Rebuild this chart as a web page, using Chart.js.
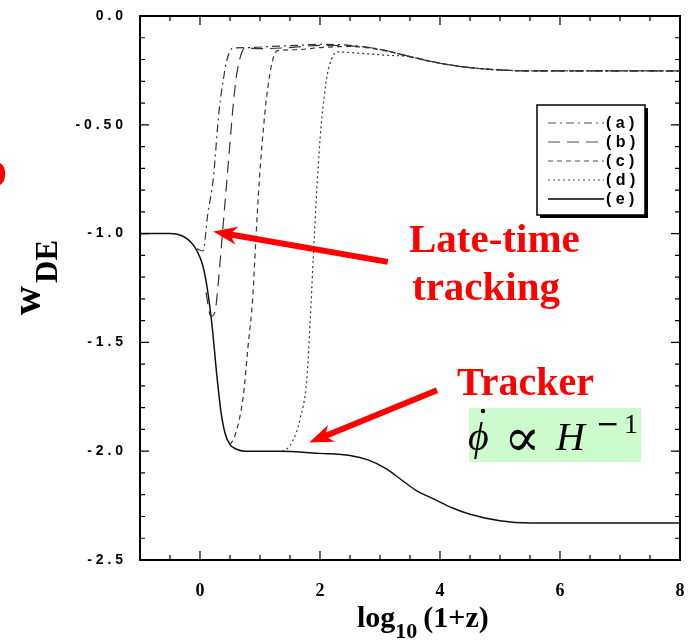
<!DOCTYPE html>
<html>
<head>
<meta charset="utf-8">
<script src="https://cdn.jsdelivr.net/npm/chart.js@4.4.0/dist/chart.umd.min.js"></script>
<style>
  html, body { margin: 0; padding: 0; background: #fff; }
  #wde { display: block; }
</style>
</head>
<body>
<canvas id="wde" width="694" height="640"></canvas>
<script>
// equation of state w_DE vs log10(1+z)

// common tail where curves (a)-(d) merge
const xTail = [3.5, 4.0, 4.5, 5.0, 5.5, 8.0];
const wTail = [-0.187, -0.217, -0.237, -0.248, -0.252, -0.252];

const xA = [-0.05, 0.05, 0.13, 0.22, 0.32, 0.39, 0.45, 0.55, 0.8, 1.2, 1.6, 2.0, 2.5, 3.0];
const wA = [-1.07, -1.08, -0.91, -0.75, -0.43, -0.29, -0.2, -0.147, -0.145, -0.14, -0.135, -0.13, -0.135, -0.153];

const xB = [0.1, 0.18, 0.25, 0.3, 0.38, 0.45, 0.55, 0.6, 0.67, 0.75, 1.0, 1.5, 2.0, 2.5, 3.0];
const wB = [-1.27, -1.38, -1.36, -1.24, -0.98, -0.75, -0.42, -0.29, -0.19, -0.147, -0.15, -0.145, -0.135, -0.137, -0.153];

const xC = [0.5, 0.58, 0.72, 0.8, 0.88, 0.93, 0.99, 1.08, 1.13, 1.2, 1.28, 1.6, 2.0, 2.5, 3.0];
const wC = [-1.97, -1.93, -1.75, -1.52, -1.29, -1.03, -0.75, -0.45, -0.33, -0.216, -0.16, -0.155, -0.145, -0.14, -0.155];

const xD = [1.37, 1.45, 1.55, 1.67, 1.78, 1.84, 1.89, 1.95, 2.02, 2.07, 2.12, 2.19, 2.28, 2.6, 3.1];
const wD = [-2.0, -1.99, -1.95, -1.85, -1.67, -1.38, -1.1, -0.78, -0.5, -0.37, -0.27, -0.2, -0.165, -0.17, -0.18];

const xE = [-1, -0.5, -0.3, -0.15, -0.05, 0.05, 0.12, 0.2, 0.28, 0.35, 0.42, 0.5, 0.6, 0.75, 1.3, 2.0, 2.5, 2.8, 3.1, 3.35, 3.6, 3.9, 4.2, 4.5, 5.0, 5.5, 6.0, 8.0];
const wE = [-1.0, -1.0, -1.01, -1.04, -1.08, -1.15, -1.25, -1.42, -1.65, -1.82, -1.92, -1.97, -1.99, -2.0, -2.0, -2.01, -2.02, -2.04, -2.08, -2.13, -2.18, -2.22, -2.26, -2.29, -2.32, -2.33, -2.33, -2.33];

const seriesLabels = ["( a )", "( b )", "( c )", "( d )", "( e )"];

const xTickValues = [0, 2, 4, 6, 8];
const xTickLabels = ["0", "2", "4", "6", "8"];
const yTickValues = [0, -0.5, -1, -1.5, -2, -2.5];
const yTickLabels = ["0 . 0", "- 0 . 5 0", "- 1 . 0", "- 1 . 5", "- 2 . 0", "- 2 . 5"];

const SERIF = "'Liberation Serif', 'Times New Roman', serif";
const SANS = "'Liberation Sans', Arial, sans-serif";


function toPoints(xs, ws) {
  return xs.map((x, i) => ({ x: x, y: ws[i] }));
}

function pickLabel(values, labels, v) {
  const i = values.findIndex((t) => Math.abs(t - v) < 1e-6);
  return i < 0 ? "" : labels[i];
}

function makeSeries(label, xs, ws, dash, color, width) {
  return {
    label: label,
    data: toPoints(xs, ws),
    borderColor: color,
    borderWidth: width,
    borderDash: dash,
    pointRadius: 0,
    fill: false,
    cubicInterpolationMode: "monotone",
  };
}

// keep the plot frame where the figure has it: drop label overflow padding
function fixScale(size, key) {
  return function (s) {
    s[key] = size;
    s.paddingTop = 0;
    s.paddingBottom = 0;
    s.paddingLeft = 0;
    s.paddingRight = 0;
  };
}


// inward ticks on all four sides + frame
const frameTicks = {
  id: "frameTicks",
  afterDraw(chart) {
    const ctx = chart.ctx;
    const a = chart.chartArea;
    const xs = chart.scales.x;
    const ys = chart.scales.y;

    ctx.save();
    ctx.strokeStyle = "#000";
    ctx.lineWidth = 1.2;
    ctx.setLineDash([]);

    xs.ticks.forEach((t) => {
      const px = xs.getPixelForValue(t.value);
      const len = pickLabel(xTickValues, xTickLabels, t.value) ? 9 : 5;
      ctx.beginPath();
      ctx.moveTo(px, a.bottom);
      ctx.lineTo(px, a.bottom - len);
      ctx.moveTo(px, a.top);
      ctx.lineTo(px, a.top + len);
      ctx.stroke();
    });

    ys.ticks.forEach((t) => {
      const py = ys.getPixelForValue(t.value);
      const len = pickLabel(yTickValues, yTickLabels, t.value) ? 9 : 5;
      ctx.beginPath();
      ctx.moveTo(a.left, py);
      ctx.lineTo(a.left + len, py);
      ctx.moveTo(a.right, py);
      ctx.lineTo(a.right - len, py);
      ctx.stroke();
    });

    ctx.lineWidth = 2;
    ctx.strokeRect(a.left, a.top, a.right - a.left, a.bottom - a.top);
    ctx.restore();
  },
};


const boxLegend = {
  id: "boxLegend",
  afterDraw(chart) {
    const ctx = chart.ctx;
    const left = 537, top = 105, w = 108, h = 110;

    ctx.save();
    ctx.fillStyle = "#000";
    ctx.fillRect(left + 3, top + 3, w, h);
    ctx.fillStyle = "#fff";
    ctx.fillRect(left, top, w, h);
    ctx.strokeStyle = "#000";
    ctx.lineWidth = 1.5;
    ctx.strokeRect(left, top, w, h);

    ctx.font = "bold 16px " + SANS;
    ctx.textBaseline = "middle";
    ctx.textAlign = "left";

    chart.data.datasets.forEach((ds, i) => {
      const y = top + 18 + i * 19;
      ctx.setLineDash(ds.borderDash || []);
      ctx.strokeStyle = i < 4 ? "#888" : "#000";
      ctx.lineWidth = 1.3;
      ctx.beginPath();
      ctx.moveTo(548, y);
      ctx.lineTo(604, y);
      ctx.stroke();
      ctx.setLineDash([]);
      ctx.fillStyle = "#000";
      ctx.fillText(seriesLabels[i], 606, y + 1);
    });
    ctx.restore();
  },
};


function drawArrow(ctx, x0, y0, x1, y1) {
  const ang = Math.atan2(y1 - y0, x1 - x0);
  const c = Math.cos(ang);
  const s = Math.sin(ang);
  const headLen = 20;
  const headW = 9;
  const bx = x1 - headLen * c;
  const by = y1 - headLen * s;

  ctx.strokeStyle = "#ff0000";
  ctx.fillStyle = "#ff0000";
  ctx.lineWidth = 6;
  ctx.lineCap = "butt";
  ctx.beginPath();
  ctx.moveTo(x0, y0);
  ctx.lineTo(bx + 4 * c, by + 4 * s);
  ctx.stroke();

  ctx.beginPath();
  ctx.moveTo(x1, y1);
  ctx.lineTo(bx - headW * s - 4 * c, by + headW * c - 4 * s);
  ctx.lineTo(bx + 3 * c, by + 3 * s);
  ctx.lineTo(bx + headW * s - 4 * c, by - headW * c - 4 * s);
  ctx.closePath();
  ctx.fill();
}


const notes = {
  id: "notes",
  afterDraw(chart) {
    const ctx = chart.ctx;
    const xs = chart.scales.x;
    const ys = chart.scales.y;
    const px = (v) => xs.getPixelForValue(v);
    const py = (v) => ys.getPixelForValue(v);

    ctx.save();

    drawArrow(ctx, px(3.13), py(-1.13), px(0.22), py(-0.99));
    drawArrow(ctx, px(3.95), py(-1.72), px(1.82), py(-1.96));

    ctx.fillStyle = "#ff0000";
    ctx.textAlign = "left";
    ctx.textBaseline = "alphabetic";
    ctx.font = "bold 41px " + SERIF;
    ctx.fillText("Late-time", 409, 252);
    ctx.fillText("tracking", 412, 300);
    ctx.font = "bold 40px " + SERIF;
    ctx.fillText("Tracker", 457, 395);

    // partly cut-off red glyph on the left edge
    ctx.fillText("O", -24, 187);

    // green formula box
    ctx.fillStyle = "#ccfccc";
    ctx.fillRect(469, 408, 172, 54);
    ctx.fillStyle = "#000";
    ctx.font = "italic 40px " + SERIF;
    ctx.fillText("\u03D5", 468, 450);
    ctx.beginPath();
    ctx.arc(483, 411, 2.2, 0, Math.PI * 2);
    ctx.fill();
    ctx.font = "54px 'DejaVu Serif', serif";
    ctx.fillText("\u221D", 504, 456);
    ctx.font = "italic 40px " + SERIF;
    ctx.fillText("H", 556, 450);
    ctx.font = "28px 'DejaVu Sans', sans-serif";
    ctx.fillText("\u2212", 596, 433);
    ctx.font = "28px " + SERIF;
    ctx.fillText("1", 624, 433);

    // y axis title, rotated
    ctx.save();
    ctx.translate(40, 315);
    ctx.rotate(-Math.PI / 2);
    ctx.font = "bold 40px " + SERIF;
    ctx.fillText("w", 0, 0);
    ctx.font = "bold 31px " + SERIF;
    ctx.fillText("DE", 32, 17);
    ctx.restore();

    // x axis title
    let x = 357;
    ctx.font = "bold 30px " + SERIF;
    ctx.fillText("log", x, 627);
    x += ctx.measureText("log").width;
    ctx.font = "bold 22px " + SERIF;
    ctx.fillText("10", x, 638);
    x += ctx.measureText("10").width + 6;
    ctx.font = "bold 30px " + SERIF;
    ctx.fillText("(1+z)", x, 627);

    ctx.restore();
  },
};


new Chart(document.getElementById("wde"), {
  type: "line",
  data: {
    datasets: [
      makeSeries("(a)", xA.concat(xTail), wA.concat(wTail), [8, 4, 2, 4], "#333", 1.2),
      makeSeries("(b)", xB.concat(xTail), wB.concat(wTail), [12, 7], "#333", 1.2),
      makeSeries("(c)", xC.concat(xTail), wC.concat(wTail), [5, 4], "#333", 1.2),
      makeSeries("(d)", xD.concat(xTail), wD.concat(wTail), [2, 3], "#333", 1.2),
      makeSeries("(e)", xE, wE, [], "#111", 1.5),
    ],
  },
  options: {
    responsive: false,
    animation: false,
    devicePixelRatio: 1,
    layout: { padding: { left: 0, top: 16, right: 14, bottom: 0 } },
    plugins: {
      legend: { display: false },
      tooltip: { enabled: false },
    },
    scales: {
      x: {
        type: "linear",
        min: -1,
        max: 8,
        grid: { display: false, drawTicks: false },
        border: { display: false },
        ticks: {
          stepSize: 0.5,
          autoSkip: false,
          maxRotation: 0,
          padding: 21,
          color: "#000",
          font: { family: SERIF, size: 18, weight: "bold" },
          callback: (v) => pickLabel(xTickValues, xTickLabels, v),
        },
        afterFit: fixScale(80, "height"),
      },
      y: {
        type: "linear",
        min: -2.5,
        max: 0,
        grid: { display: false, drawTicks: false },
        border: { display: false },
        ticks: {
          stepSize: 0.1,
          autoSkip: false,
          padding: 17,
          color: "#000",
          font: { family: SANS, size: 14, weight: "bold" },
          callback: (v) => pickLabel(yTickValues, yTickLabels, v),
        },
        afterFit: fixScale(140, "width"),
      },
    },
  },
  plugins: [frameTicks, boxLegend, notes],
});
</script>
</body>
</html>
